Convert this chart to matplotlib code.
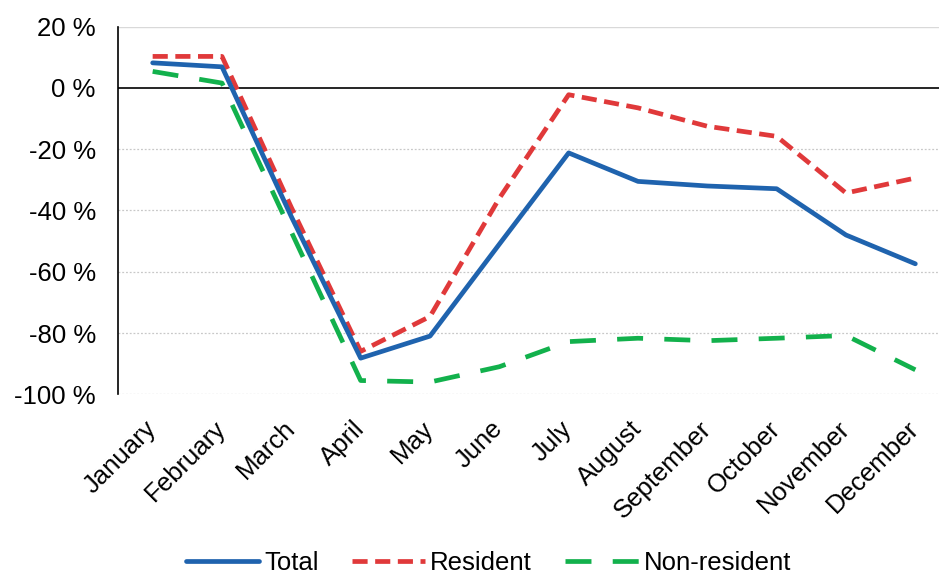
import matplotlib.pyplot as plt
from matplotlib.ticker import FuncFormatter

months = ["January", "February", "March", "April", "May", "June",
          "July", "August", "September", "October", "November", "December"]
total = [8.2, 6.9, -42, -88.2, -81, -51, -21.2, -30.5, -32, -32.9, -48, -57.4]
resident = [10.3, 10.3, -39, -86, -74.6, -36, -2.2, -6.5, -12.5, -15.8, -34.3, -29.4]
non_resident = [5.4, 1.6, -47, -95.5, -96, -91, -82.8, -81.7, -82.5, -81.7, -80.8, -92]
y_ticks = [20, 0, -20, -40, -60, -80, -100]

plt.rcParams["font.family"] = ["Liberation Sans", "DejaVu Sans"]

fig = plt.figure(figsize=(9.39, 5.74), dpi=100)
ax = fig.add_axes([118 / 939, 1 - 394.3 / 574, 832 / 939, (394.3 - 26.7) / 574])

x = range(len(months))
ax.plot(x, total, color="#1F63AE", lw=3.4, label="Total", solid_capstyle="round", zorder=4)
ax.plot(x, resident, color="#E0393A", lw=3.4, dashes=(3.2, 1.6), label="Resident", zorder=3)
ax.plot(x, non_resident, color="#12B14C", lw=3.4, dashes=(5.5, 4.5), label="Non-resident", zorder=2)

ax.set_xlim(-0.5, len(months) - 0.5)
ax.set_ylim(-100, 20)
ax.set_yticks(y_ticks)
ax.yaxis.set_major_formatter(FuncFormatter(lambda v, _: f"{v:.0f} %"))
ax.set_xticks(list(x))
ax.set_xticklabels(months, rotation=45, ha="right", va="center", rotation_mode="anchor")
ax.tick_params(axis="both", length=0, labelsize=18.5, colors="#000000")
ax.tick_params(axis="x", pad=22)
ax.tick_params(axis="y", pad=16)

for v in y_ticks:
    if v == 0:
        ax.axhline(0, color="black", lw=1.2, zorder=1)
    elif v == 20:
        ax.axhline(v, color="#D9D9D9", lw=1.0, zorder=0)
    else:
        ax.axhline(v, color="#C8C8C8", lw=0.9, ls=(0, (1.5, 1.5)), zorder=0)

for side in ["top", "right", "bottom"]:
    ax.spines[side].set_visible(False)
ax.spines["left"].set_color("black")
ax.spines["left"].set_linewidth(1.2)

fig.legend(loc="center", bbox_to_anchor=(0.52, 0.02), ncol=3, frameon=False,
           fontsize=18.5, handlelength=2.85, columnspacing=1.3, handletextpad=0.2)

fig.savefig("out.png", dpi=100)
